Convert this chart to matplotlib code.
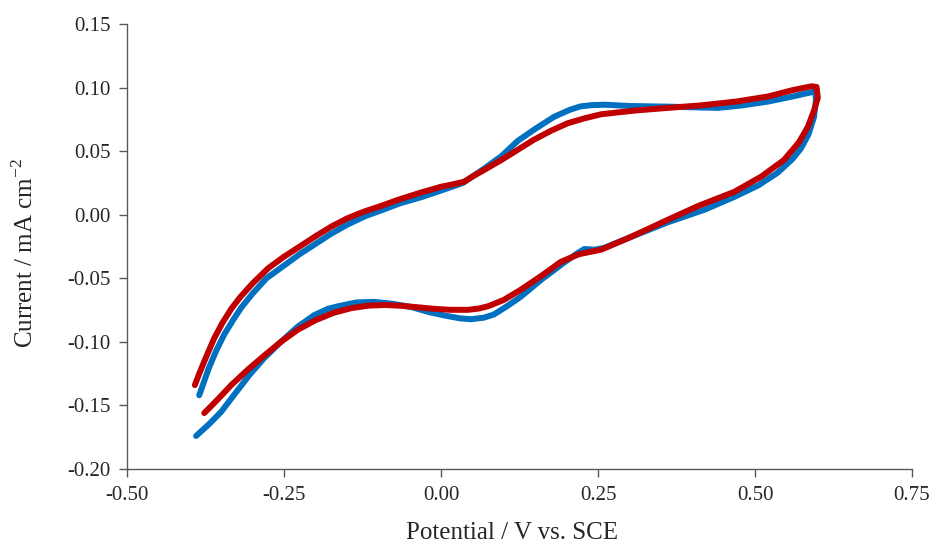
import matplotlib
matplotlib.use("Agg")
import matplotlib.pyplot as plt
from matplotlib.ticker import FormatStrFormatter

plt.rcParams['font.family'] = ['Liberation Serif', 'DejaVu Serif']
plt.rcParams['mathtext.fontset'] = 'custom'
plt.rcParams['mathtext.rm'] = 'Liberation Serif'

# Blue scan (potential V vs SCE, current mA cm^-2)
blue_x = [-0.390, -0.370, -0.350, -0.330, -0.305, -0.282, -0.255, -0.228, -0.202,
          -0.180, -0.164, -0.135, -0.107, -0.078, -0.048, -0.020, 0.005, 0.030,
          0.048, 0.068, 0.084, 0.105, 0.127, 0.160, 0.195, 0.215, 0.228, 0.245,
          0.260, 0.300, 0.361, 0.420, 0.467, 0.505, 0.536, 0.560, 0.573, 0.585,
          0.594, 0.597, 0.596,
          0.560, 0.521, 0.480, 0.441, 0.400, 0.361, 0.300, 0.262, 0.240, 0.222,
          0.205, 0.180, 0.150, 0.122, 0.096, 0.068, 0.035, 0.000, -0.030, -0.065,
          -0.092, -0.120, -0.150, -0.175, -0.200, -0.225, -0.250, -0.278, -0.300,
          -0.318, -0.330, -0.345, -0.358, -0.370, -0.385]
blue_y = [-0.174, -0.165, -0.155, -0.142, -0.126, -0.113, -0.100, -0.088, -0.079,
          -0.074, -0.072, -0.069, -0.0685, -0.070, -0.0725, -0.0765, -0.0792, -0.0815,
          -0.0822, -0.081, -0.0785, -0.072, -0.0645, -0.051, -0.038, -0.031, -0.027, -0.0275,
          -0.026, -0.018, -0.006, 0.004, 0.014, 0.023, 0.033, 0.044, 0.052, 0.063,
          0.077, 0.090, 0.097,
          0.093, 0.089, 0.086, 0.084, 0.0845, 0.085, 0.0855, 0.0865, 0.0862, 0.0852,
          0.0825, 0.077, 0.0675, 0.058, 0.046, 0.036, 0.025, 0.019, 0.014, 0.009,
          0.004, -0.001, -0.008, -0.015, -0.023, -0.031, -0.040, -0.050, -0.062,
          -0.073, -0.082, -0.094, -0.107, -0.121, -0.142]

# Red scan
red_x = [-0.377, -0.355, -0.334, -0.308, -0.282, -0.255, -0.228, -0.200, -0.170,
         -0.143, -0.116, -0.090, -0.064, -0.037, -0.011, 0.015, 0.043, 0.060, 0.075,
         0.100, 0.127, 0.160, 0.191, 0.220, 0.255, 0.300, 0.361, 0.410, 0.467,
         0.510, 0.546, 0.570, 0.584, 0.594, 0.600, 0.598, 0.590,
         0.560, 0.521, 0.470, 0.414, 0.361, 0.310, 0.255, 0.230, 0.202, 0.175,
         0.148, 0.122, 0.096, 0.068, 0.050, 0.037, 0.020, 0.000, -0.035, -0.068,
         -0.095, -0.123, -0.150, -0.175, -0.200, -0.228, -0.250, -0.275, -0.300,
         -0.320, -0.334, -0.348, -0.361, -0.375, -0.385, -0.392]
red_y = [-0.156, -0.145, -0.134, -0.122, -0.111, -0.100, -0.0905, -0.083, -0.077,
         -0.0735, -0.0715, -0.071, -0.0716, -0.0728, -0.074, -0.0748, -0.0748, -0.0738, -0.072,
         -0.067, -0.059, -0.048, -0.037, -0.031, -0.0275, -0.018, -0.004, 0.007, 0.018,
         0.030, 0.043, 0.057, 0.069, 0.082, 0.092, 0.1005, 0.1010,
         0.098, 0.093, 0.089, 0.086, 0.084, 0.082, 0.079, 0.076, 0.072, 0.066,
         0.059, 0.051, 0.043, 0.035, 0.030, 0.026, 0.024, 0.022, 0.017, 0.0118,
         0.007, 0.0024, -0.003, -0.0094, -0.017, -0.026, -0.033, -0.042, -0.054,
         -0.065, -0.074, -0.085, -0.097, -0.113, -0.125, -0.134]

x_ticks = [-0.50, -0.25, 0.00, 0.25, 0.50, 0.75]
y_ticks = [-0.20, -0.15, -0.10, -0.05, 0.00, 0.05, 0.10, 0.15]

fig = plt.figure(figsize=(9.38, 5.49), dpi=100)
ax = fig.add_axes([0.1354, 0.1457, 0.8369, 0.8106])

ax.plot(blue_x, blue_y, color='#0070C0', lw=4.3, solid_capstyle='round', solid_joinstyle='round')
ax.plot(red_x, red_y, color='#C00000', lw=4.3, solid_capstyle='round', solid_joinstyle='round')

ax.set_xlim(-0.5, 0.75)
ax.set_ylim(-0.20, 0.15)
ax.set_xticks(x_ticks)
ax.set_yticks(y_ticks)
ax.xaxis.set_major_formatter(FormatStrFormatter('%.2f'))
ax.yaxis.set_major_formatter(FormatStrFormatter('%.2f'))

for s in ['top', 'right']:
    ax.spines[s].set_visible(False)
for s in ['left', 'bottom']:
    ax.spines[s].set_color('#595959')
    ax.spines[s].set_linewidth(1.0)
ax.tick_params(direction='out', length=6, width=1.0, color='#595959',
               labelsize=15, labelcolor='#262626', pad=6)

ax.set_xlabel('Potential / V vs. SCE', fontsize=18, color='#262626')
ax.set_ylabel(r'Current / mA cm$^{\mathregular{-2}}$', fontsize=18, color='#262626')
ax.xaxis.set_label_coords(0.491, -0.118)
ax.yaxis.set_label_coords(-0.113, 0.485)

fig.savefig('out.png', dpi=100)
